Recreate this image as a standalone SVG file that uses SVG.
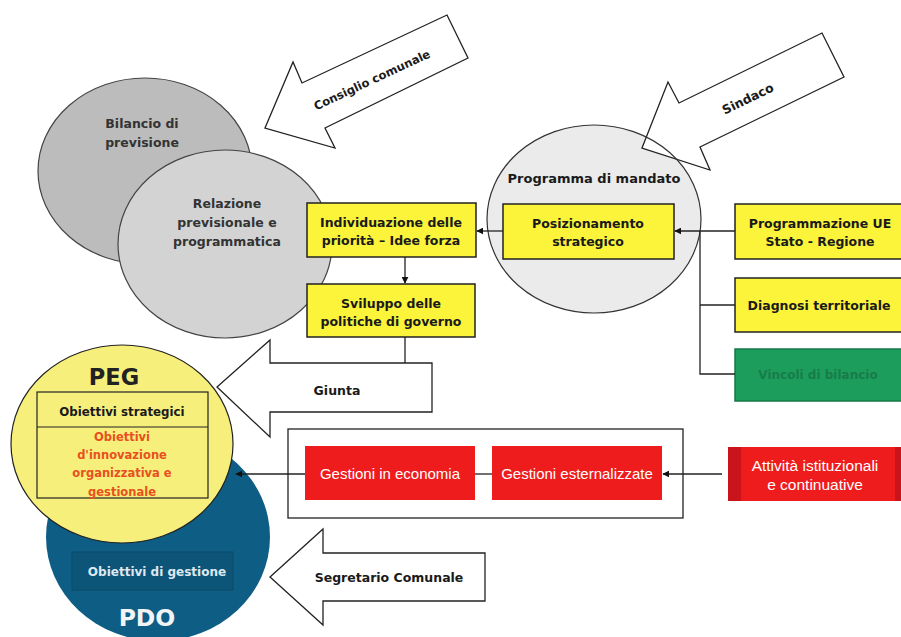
<svg xmlns="http://www.w3.org/2000/svg" width="901" height="637" viewBox="0 0 901 637">
<style>
text{font-family:"DejaVu Sans","Liberation Sans",Arial,sans-serif;font-weight:bold;text-anchor:middle}
.t12{font-size:12.5px;fill:#1a1a1a}
.t13{font-size:12.5px;fill:#1a1a1a}
.g{font-size:12.5px;fill:#333}
.w{font-family:"Liberation Sans",Arial,sans-serif;font-size:15px;fill:#fff;font-weight:normal}
.o{font-size:11.5px;fill:#e8501e}
.ybox{fill:#fbf43a;stroke:#222;stroke-width:1.5}
.rbox{fill:#ee1c1c;stroke:none}
.bigarrow{fill:#fff;stroke:#222;stroke-width:1.3;stroke-linejoin:miter}
.con{stroke:#222;stroke-width:1.3;fill:none}
</style>
<defs>
<marker id="ah" viewBox="0 0 10 10" refX="9" refY="5" markerWidth="7" markerHeight="7" orient="auto" markerUnits="userSpaceOnUse">
<path d="M0,0 L10,5 L0,10 z" fill="#111"/>
</marker>
</defs>
<rect width="901" height="637" fill="#fff"/>

<g id="bilancio">
<ellipse cx="145" cy="171" rx="107" ry="93" fill="#bcbcbc" stroke="#444" stroke-width="1.2"/>
<text class="g" x="142" y="128">Bilancio di</text>
<text class="g" x="142" y="147">previsione</text>
</g>

<g id="relazione">
<ellipse cx="225" cy="244" rx="107" ry="94" fill="#d3d3d3" stroke="#444" stroke-width="1.2"/>
<text class="g" x="227" y="208">Relazione</text>
<text class="g" x="227" y="227">previsionale e</text>
<text class="g" x="227" y="246">programmatica</text>
</g>

<g id="consiglio">
<polygon class="bigarrow" points="265,128 293,62 302,83 447,15 468,58 325,128 335,148"/>
<text transform="translate(372,80) rotate(-25)" y="4" style="font-size:11.6px;fill:#1a1a1a">Consiglio comunale</text>
</g>

<g id="programma">
<ellipse cx="594" cy="219" rx="107" ry="94" fill="#ebebeb" stroke="none"/>
<polygon class="bigarrow" points="642,148 668,82 679,103 822,33 844,77 700,147 710,170"/>
<ellipse cx="594" cy="219" rx="107" ry="94" fill="none" stroke="#333" stroke-width="1.2"/>
<text x="594" y="183" style="font-size:13px;fill:#1a1a1a">Programma di mandato</text>
<text class="t13" transform="translate(748,99) rotate(-26)" y="4">Sindaco</text>
</g>

<g id="posizionamento">
<rect class="ybox" x="503" y="204" width="171" height="55"/>
<text class="t12" x="588" y="228">Posizionamento</text>
<text class="t12" x="588" y="246">strategico</text>
</g>

<g id="individuazione">
<rect class="ybox" x="307" y="203" width="169" height="54"/>
<text class="t12" x="391" y="227">Individuazione delle</text>
<text class="t12" x="391" y="245">priorità – Idee forza</text>
</g>

<g id="sviluppo">
<rect class="ybox" x="307" y="284" width="168" height="53"/>
<text class="t12" x="391" y="308">Sviluppo delle</text>
<text class="t12" x="391" y="326">politiche di governo</text>
</g>

<g id="programmazione">
<rect class="ybox" x="735" y="204" width="170" height="55"/>
<text class="t13" x="820" y="228">Programmazione UE</text>
<text class="t13" x="820" y="246">Stato - Regione</text>
</g>

<g id="diagnosi">
<rect class="ybox" x="735" y="278" width="170" height="54"/>
<text class="t13" x="819" y="310">Diagnosi territoriale</text>
</g>

<g id="vincoli">
<rect x="735" y="349" width="170" height="52" fill="#1c9d5c" stroke="#137a45" stroke-width="1.5"/>
<text x="818" y="379" style="font-size:12px;fill:#177c48">Vincoli di bilancio</text>
</g>

<g id="giunta">
<polygon class="bigarrow" points="217,387 270,340 270,363 432,363 432,412 270,412 270,437"/>
<text class="t13" x="337" y="395">Giunta</text>
</g>

<g id="pdo">
<ellipse cx="158" cy="537" rx="112" ry="104" fill="#0e5d85"/>
<rect x="72" y="552" width="161" height="38" fill="#0c5478" stroke="#0a4a6a" stroke-width="1"/>
<text x="157" y="576" style="font-size:12px;fill:#dfe8ef">Obiettivi di gestione</text>
<text x="147" y="626" style="font-size:23.5px;fill:#f2f4f6">PDO</text>
</g>

<g id="peg">
<ellipse cx="122" cy="444" rx="111" ry="99" fill="#f6ef7c" stroke="#222" stroke-width="1.2"/>
<text x="114" y="385" style="font-size:22.5px;fill:#222">PEG</text>
<rect x="37" y="392" width="171" height="106" fill="none" stroke="#222" stroke-width="1.2"/>
<line x1="37" y1="427" x2="208" y2="427" stroke="#222" stroke-width="1.2"/>
<text x="122" y="416" style="font-size:11.8px;fill:#1a1a1a">Obiettivi strategici</text>
<text class="o" x="122" y="441">Obiettivi</text>
<text class="o" x="122" y="459">d'innovazione</text>
<text class="o" x="122" y="477">organizzativa e</text>
<text class="o" x="122" y="496">gestionale</text>
</g>

<g id="gestioni-box">
<rect x="288" y="429" width="395" height="89" fill="#fff" stroke="#222" stroke-width="1.3"/>
</g>

<g id="economia">
<rect class="rbox" x="305" y="446" width="170" height="54"/>
<text class="w" x="390" y="479">Gestioni in economia</text>
</g>

<g id="esternalizzate">
<rect class="rbox" x="492" y="446" width="170" height="54"/>
<text class="w" x="577" y="479">Gestioni esternalizzate</text>
</g>

<g id="attivita">
<rect x="728" y="447" width="173" height="54" fill="#c8141a"/>
<rect class="rbox" x="741" y="447" width="154" height="54"/>
<text class="w" x="815" y="471" style="font-size:15.5px">Attività istituzionali</text>
<text class="w" x="815" y="490" style="font-size:15.5px">e continuative</text>
</g>

<g id="segretario">
<polygon class="bigarrow" points="270,577 323,529 323,553 485,553 485,601 323,601 323,625"/>
<text class="t13" x="389" y="582">Segretario Comunale</text>
</g>

<g id="connectors">
<line class="con" x1="405" y1="257" x2="405" y2="283" marker-end="url(#ah)"/>
<line class="con" x1="405" y1="337" x2="405" y2="363"/>
<line class="con" x1="503" y1="231" x2="477" y2="231" marker-end="url(#ah)"/>
<line class="con" x1="735" y1="231" x2="675" y2="231" marker-end="url(#ah)"/>
<polyline class="con" points="700,231 700,374 735,374"/>
<line class="con" x1="700" y1="305" x2="735" y2="305"/>
<line class="con" x1="722" y1="474" x2="663" y2="474" marker-end="url(#ah)"/>
<line class="con" x1="475" y1="474" x2="492" y2="474"/>
<line class="con" x1="305" y1="474" x2="236" y2="474" marker-end="url(#ah)"/>
</g>
</svg>
